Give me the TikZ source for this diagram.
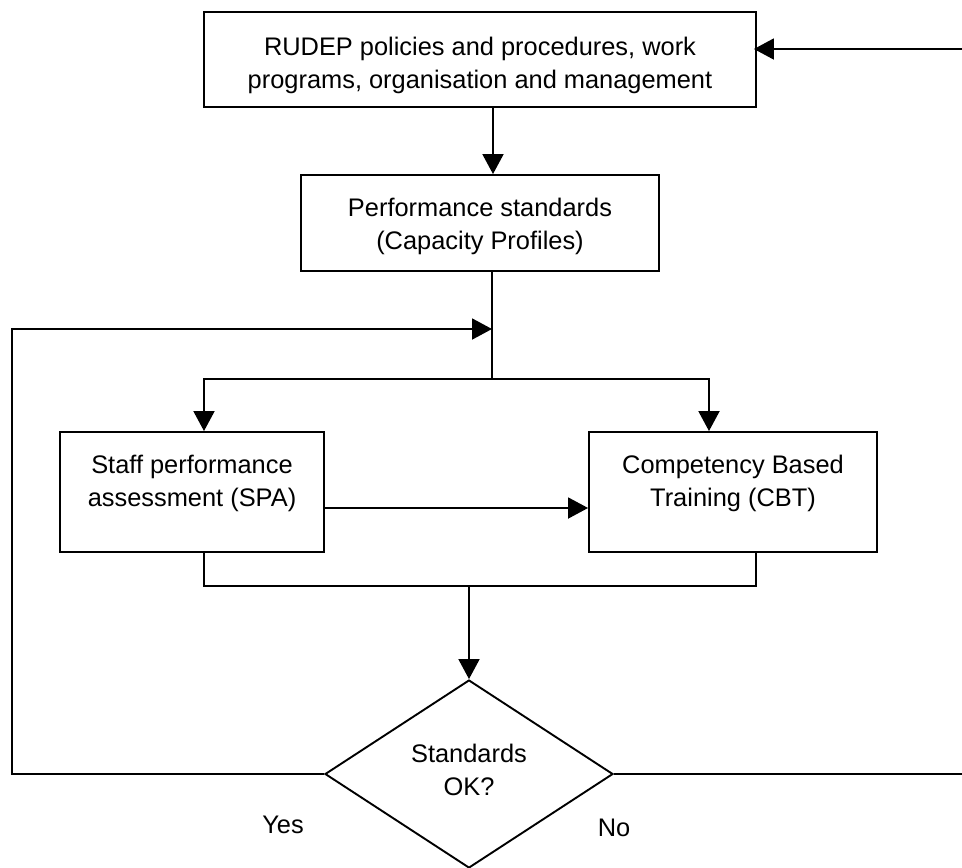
\documentclass[tikz,border=0pt]{standalone}
\usepackage{fontspec}
\setmainfont{Liberation Sans}
\usetikzlibrary{arrows.meta,shapes.geometric}

\begin{document}
\begin{tikzpicture}[x=1pt,y=-1pt,
  line width=1.9pt,
  box/.style={draw, rectangle, inner sep=0pt},
  decision/.style={draw, diamond, inner sep=0pt, aspect=1.5},
  txt/.style={align=center, inner sep=0pt, anchor=base,
              font=\fontsize{25.4pt}{33pt}\selectfont},
  arr/.style={-{Triangle[length=20pt,width=21pt]}}
]
\useasboundingbox (0,0) rectangle (962,868);

% boxes
\node[box, minimum width=552pt, minimum height=95pt]  (rudep) at (480,59.5) {};
\node[box, minimum width=358pt, minimum height=96pt]  (perf)  at (480,223)  {};
\node[box, minimum width=264pt, minimum height=120pt] (spa)   at (192,492)  {};
\node[box, minimum width=288pt, minimum height=120pt] (cbt)   at (733,492)  {};
\node[decision, minimum width=288pt, minimum height=188pt] (dec) at (469,774) {};

% box texts (anchored on the baseline of the last line)
\node[txt] (rudepT) at (480,88)  {RUDEP policies and procedures, work\\programs, organisation and management};
\node[txt] (perfT)  at (480,249) {Performance standards\\(Capacity Profiles)};
\node[txt] (spaT)   at (192,506) {Staff performance\\assessment (SPA)};
\node[txt] (cbtT)   at (733,506) {Competency Based\\Training (CBT)};
\node[txt] (decT)   at (469,795) {Standards\\OK?};
\node[txt] (yesT)   at (283,833) {Yes};
\node[txt] (noT)    at (614,836) {No};

% connector points
\coordinate (inR)     at (962,49);
\coordinate (fb)      at (492,329);
\coordinate (fbTurn)  at (12,329);
\coordinate (split)   at (492,379);
\coordinate (merge)   at (469,586);
\coordinate (outR)    at (962,774);

% input from the right into the top box
\draw[arr, shorten >=-3pt] (inR) -- (inR -| rudep.east);
% top box to performance standards
\draw[arr] ([xshift=13pt]rudep.south) -- ([xshift=13pt]perf.north);
% performance standards down to the split
\draw ([xshift=12pt]perf.south) -- (split);
\draw[arr] (split) -| ([xshift=12pt]spa.north);
\draw[arr] (split) -| ([xshift=-24pt]cbt.north);
% SPA to CBT
\draw[arr] ([yshift=-16pt]spa.east) -- ([yshift=-16pt]cbt.west);
% both boxes merge into the decision
\draw ([xshift=12pt]spa.south) |- (merge) -| ([xshift=23pt]cbt.south);
\draw[arr] (merge) -- (dec.north);
% Yes: loop back
\draw[arr] (dec.west) -| (fbTurn) -- (fb);
% No: out to the right
\draw (dec.east) -- (outR);
\end{tikzpicture}
\end{document}
